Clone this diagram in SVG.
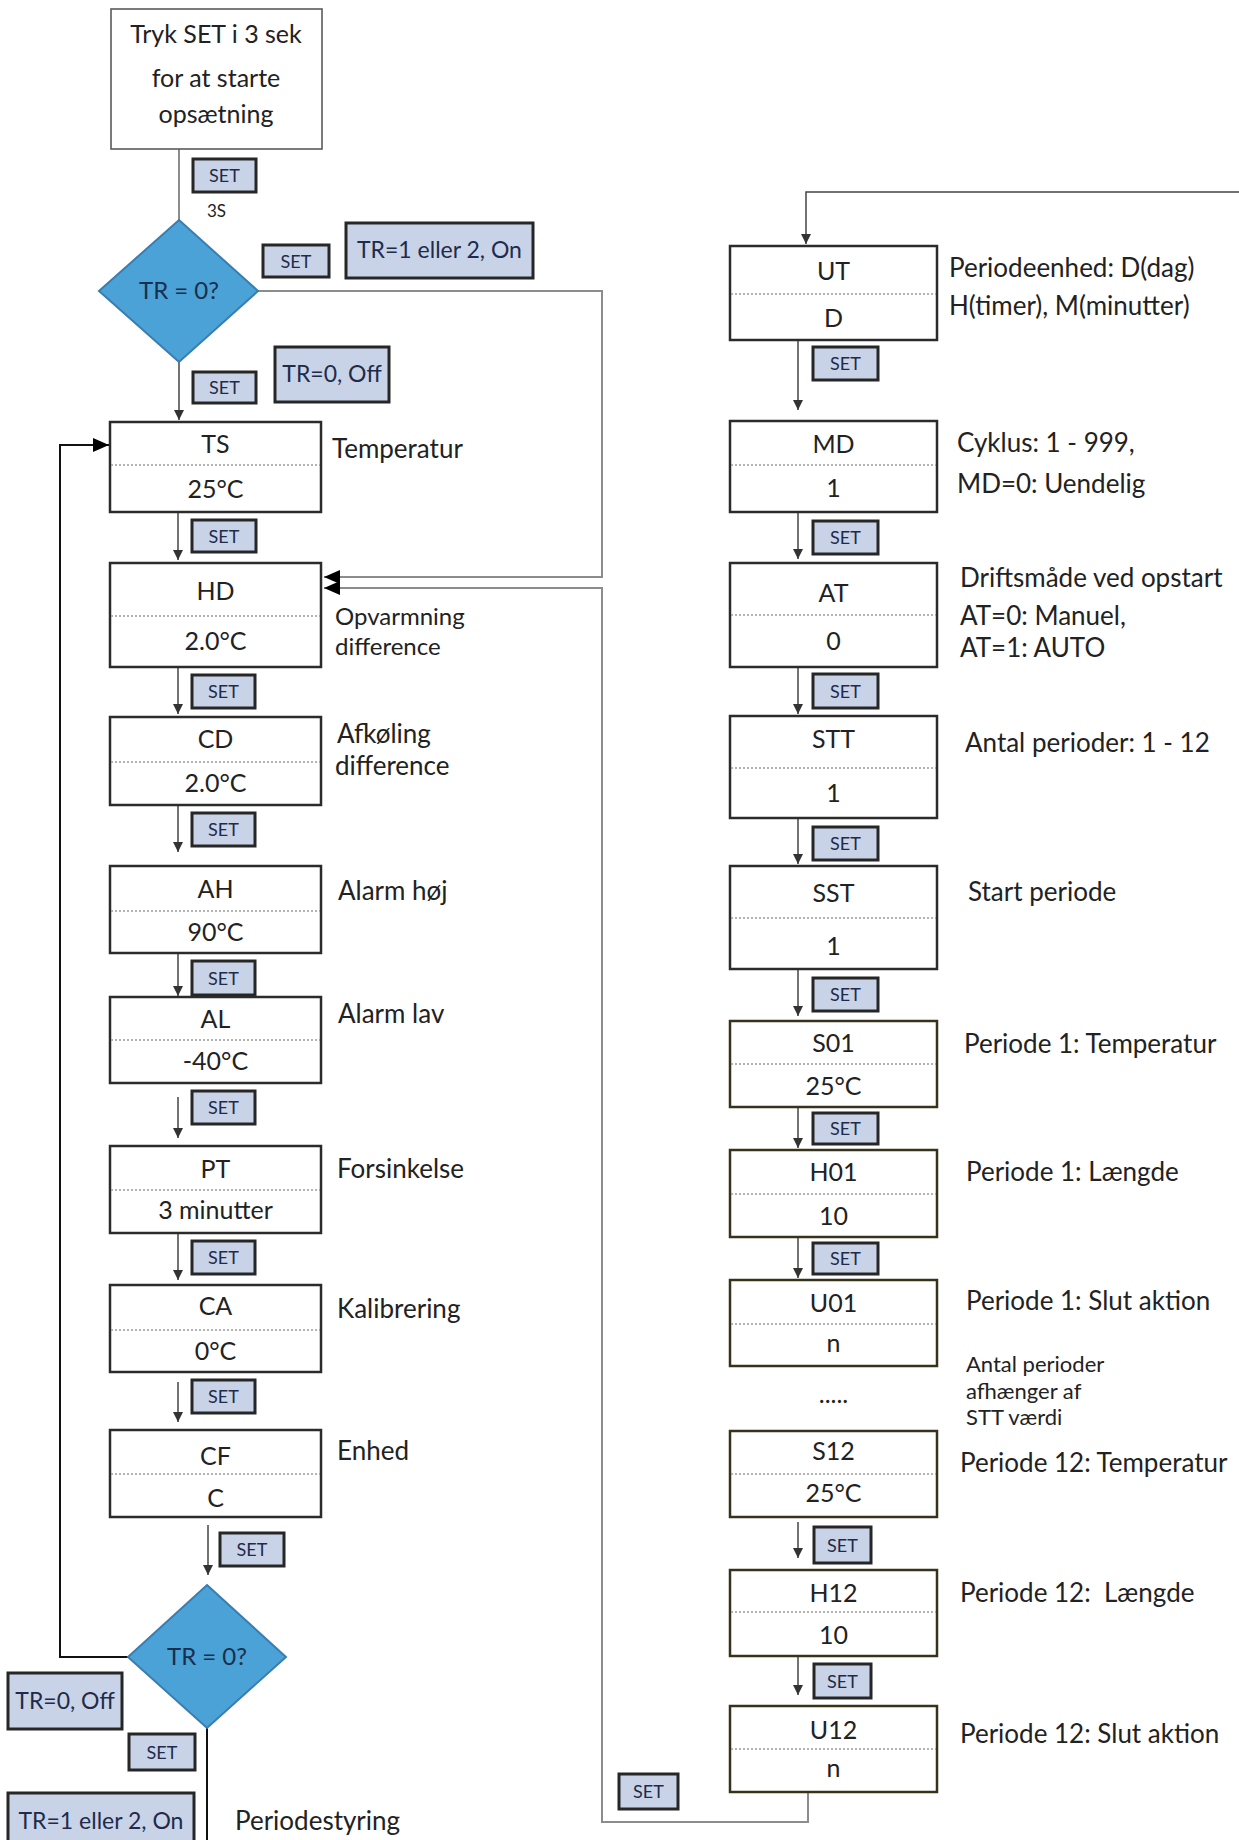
<svg xmlns="http://www.w3.org/2000/svg" width="1239" height="1840" viewBox="0 0 1239 1840">
<style>
text{font-family:Lato,"Liberation Sans",Arial,sans-serif}
.box{fill:#fff;stroke:#2b2b2b;stroke-width:2.5}
.box2{fill:#fff;stroke:#36321c;stroke-width:2.5}
.start{fill:#fff;stroke:#5a5a5a;stroke-width:1.6}
.sep{stroke:#9a9a9a;stroke-width:1.5;stroke-dasharray:2 2;fill:none}
.btn{fill:#c9d3e8;stroke:#262626;stroke-width:3}
.btnt{font-size:18px;fill:#1e2b4a;text-anchor:middle}
.tr{font-size:23px;fill:#1e2b4a;text-anchor:middle}
.nt{font-size:25px;fill:#222;text-anchor:middle}
.lbl{font-size:26px;fill:#222}
.lbl2{font-size:24px;fill:#222}
.lbl3{font-size:22px;fill:#222}
.dia{fill:#4aa2d6;stroke:#3a7db0;stroke-width:2}
.diat{font-size:24px;fill:#1a2e4d;text-anchor:middle}
.gray{stroke:#8c8c8c;stroke-width:2;fill:none}
.blk{stroke:#111;stroke-width:2;fill:none}
.thin{stroke:#444;stroke-width:1.5;fill:none}
</style>
<defs>
<marker id="big" markerUnits="userSpaceOnUse" markerWidth="16" markerHeight="14" refX="16" refY="7" orient="auto"><path d="M0,0 L16,7 L0,14 z" fill="#000"/></marker>
<marker id="sm" markerUnits="userSpaceOnUse" markerWidth="10" markerHeight="10" refX="10" refY="5" orient="auto"><path d="M0,0 L10,5 L0,10 z" fill="#333"/></marker>
</defs>
<rect width="1239" height="1840" fill="#fff"/>

<g id="connectors">
<path class="gray" d="M179,149 V220"/>
<path class="thin" d="M179,362 V420" marker-end="url(#sm)"/>
<path class="gray" d="M258,291 H602 V577 H324" marker-end="url(#big)"/>
<path class="gray" d="M808,1792 V1822 H602 V588 H324" marker-end="url(#big)"/>
<path class="thin" d="M1239,192 H806 V244" marker-end="url(#sm)"/>
<path class="blk" d="M128,1657 H60 V445 H109" marker-end="url(#big)"/>
<path class="blk" d="M207,1728 V1840"/>
<path class="thin" d="M178,512 V560" marker-end="url(#sm)"/>
<path class="thin" d="M178,667 V714" marker-end="url(#sm)"/>
<path class="thin" d="M178,805 V852" marker-end="url(#sm)"/>
<path class="thin" d="M178,953 V996" marker-end="url(#sm)"/>
<path class="thin" d="M178,1097 V1138" marker-end="url(#sm)"/>
<path class="thin" d="M178,1233 V1280" marker-end="url(#sm)"/>
<path class="thin" d="M178,1382 V1422" marker-end="url(#sm)"/>
<path class="thin" d="M208,1525 V1575" marker-end="url(#sm)"/>
<path class="thin" d="M798,340 V410" marker-end="url(#sm)"/>
<path class="thin" d="M798,512 V559" marker-end="url(#sm)"/>
<path class="thin" d="M798,667 V714" marker-end="url(#sm)"/>
<path class="thin" d="M798,818 V864" marker-end="url(#sm)"/>
<path class="thin" d="M798,969 V1016" marker-end="url(#sm)"/>
<path class="thin" d="M798,1107 V1148" marker-end="url(#sm)"/>
<path class="thin" d="M798,1237 V1278" marker-end="url(#sm)"/>
<path class="thin" d="M798,1522 V1558" marker-end="url(#sm)"/>
<path class="thin" d="M798,1657 V1695" marker-end="url(#sm)"/>
</g>

<g id="start">
<rect class="start" x="111" y="9" width="211" height="140"/>
<text class="nt" x="216" y="43">Tryk SET i 3 sek</text>
<text class="nt" x="216" y="87">for at starte</text>
<text class="nt" x="216" y="123">opsætning</text>
</g>

<g id="set-start"><rect class="btn" x="193" y="159" width="63" height="33"/><text class="btnt" x="224.5" y="182">SET</text>
<text x="207" y="217" style="font-size:17px;fill:#222">3S</text></g>

<g id="diamond1">
<polygon class="dia" points="179,220 258,291 179,362 99,291"/>
<text class="diat" x="179" y="299">TR = 0?</text>
</g>
<g id="set-on1"><rect class="btn" x="263" y="245" width="66" height="32"/><text class="btnt" x="296" y="268">SET</text></g>
<g id="tr-on1"><rect class="btn" x="346" y="223" width="187" height="55"/><text class="tr" x="439.5" y="258">TR=1 eller 2, On</text></g>
<g id="set-off1"><rect class="btn" x="193" y="372" width="63" height="31"/><text class="btnt" x="224.5" y="394">SET</text></g>
<g id="tr-off1"><rect class="btn" x="275" y="347" width="114" height="55"/><text class="tr" x="332" y="382">TR=0, Off</text></g>

<g id="TS"><rect class="box" x="110" y="422" width="211" height="90"/><line class="sep" x1="111" y1="465" x2="320" y2="465"/>
<text class="nt" x="215.5" y="453">TS</text><text class="nt" x="215.5" y="498">25°C</text>
<text class="lbl" x="332" y="458">Temperatur</text></g>
<g id="set-ts"><rect class="btn" x="192" y="520" width="64" height="32"/><text class="btnt" x="224" y="543">SET</text></g>

<g id="HD"><rect class="box" x="110" y="563" width="211" height="104"/><line class="sep" x1="111" y1="616" x2="320" y2="616"/>
<text class="nt" x="215.5" y="600">HD</text><text class="nt" x="215.5" y="650">2.0°C</text>
<text class="lbl2" x="335" y="625">Opvarmning</text><text class="lbl2" x="335" y="655">difference</text></g>
<g id="set-hd"><rect class="btn" x="192" y="675" width="63" height="33"/><text class="btnt" x="223.5" y="698">SET</text></g>

<g id="CD"><rect class="box" x="110" y="717" width="211" height="88"/><line class="sep" x1="111" y1="762" x2="320" y2="762"/>
<text class="nt" x="215.5" y="748">CD</text><text class="nt" x="215.5" y="792">2.0°C</text>
<text class="lbl" x="337" y="743">Afkøling</text><text class="lbl" x="335" y="775">difference</text></g>
<g id="set-cd"><rect class="btn" x="192" y="813" width="63" height="33"/><text class="btnt" x="223.5" y="836">SET</text></g>

<g id="AH"><rect class="box" x="110" y="866" width="211" height="87"/><line class="sep" x1="111" y1="911" x2="320" y2="911"/>
<text class="nt" x="215.5" y="898">AH</text><text class="nt" x="215.5" y="941">90°C</text>
<text class="lbl" x="338" y="900">Alarm høj</text></g>
<g id="set-ah"><rect class="btn" x="192" y="961" width="63" height="34"/><text class="btnt" x="223.5" y="985">SET</text></g>

<g id="AL"><rect class="box" x="110" y="997" width="211" height="86"/><line class="sep" x1="111" y1="1040" x2="320" y2="1040"/>
<text class="nt" x="215.5" y="1028">AL</text><text class="nt" x="215.5" y="1070">-40°C</text>
<text class="lbl" x="338" y="1023">Alarm lav</text></g>
<g id="set-al"><rect class="btn" x="192" y="1091" width="63" height="33"/><text class="btnt" x="223.5" y="1114">SET</text></g>

<g id="PT"><rect class="box" x="110" y="1146" width="211" height="87"/><line class="sep" x1="111" y1="1190" x2="320" y2="1190"/>
<text class="nt" x="215.5" y="1178">PT</text><text class="nt" x="215.5" y="1219">3 minutter</text>
<text class="lbl" x="337" y="1178">Forsinkelse</text></g>
<g id="set-pt"><rect class="btn" x="192" y="1241" width="63" height="33"/><text class="btnt" x="223.5" y="1264">SET</text></g>

<g id="CA"><rect class="box" x="110" y="1285" width="211" height="87"/><line class="sep" x1="111" y1="1330" x2="320" y2="1330"/>
<text class="nt" x="215.5" y="1315">CA</text><text class="nt" x="215.5" y="1360">0°C</text>
<text class="lbl" x="337" y="1318">Kalibrering</text></g>
<g id="set-ca"><rect class="btn" x="192" y="1380" width="63" height="33"/><text class="btnt" x="223.5" y="1403">SET</text></g>

<g id="CF"><rect class="box" x="110" y="1430" width="211" height="87"/><line class="sep" x1="111" y1="1474" x2="320" y2="1474"/>
<text class="nt" x="215.5" y="1465">CF</text><text class="nt" x="215.5" y="1507">C</text>
<text class="lbl" x="337" y="1460">Enhed</text></g>
<g id="set-cf"><rect class="btn" x="220" y="1533" width="64" height="33"/><text class="btnt" x="252" y="1556">SET</text></g>

<g id="diamond2">
<polygon class="dia" points="207,1585 286,1657 207,1728 128,1657"/>
<text class="diat" x="207" y="1665">TR = 0?</text>
</g>
<g id="tr-off2"><rect class="btn" x="8" y="1673" width="114" height="56"/><text class="tr" x="65" y="1709">TR=0, Off</text></g>
<g id="set-d2"><rect class="btn" x="129" y="1734" width="66" height="36"/><text class="btnt" x="162" y="1759">SET</text></g>
<g id="tr-on2"><rect class="btn" x="8" y="1793" width="186" height="60"/><text class="tr" x="101" y="1829">TR=1 eller 2, On</text></g>
<text class="lbl" x="235" y="1830">Periodestyring</text>

<g id="UT"><rect class="box" x="730" y="246" width="207" height="94"/><line class="sep" x1="731" y1="294" x2="936" y2="294"/>
<text class="nt" x="833.5" y="280">UT</text><text class="nt" x="833.5" y="327">D</text>
<text class="lbl" x="949" y="277">Periodeenhed: D(dag)</text><text class="lbl" x="949" y="315">H(timer), M(minutter)</text></g>
<g id="set-ut"><rect class="btn" x="813" y="347" width="65" height="33"/><text class="btnt" x="845.5" y="370">SET</text></g>

<g id="MD"><rect class="box" x="730" y="421" width="207" height="91"/><line class="sep" x1="731" y1="465" x2="936" y2="465"/>
<text class="nt" x="833.5" y="453">MD</text><text class="nt" x="833.5" y="497">1</text>
<text class="lbl" x="957" y="452">Cyklus: 1 - 999,</text><text class="lbl" x="957" y="493">MD=0: Uendelig</text></g>
<g id="set-md"><rect class="btn" x="813" y="521" width="65" height="33"/><text class="btnt" x="845.5" y="544">SET</text></g>

<g id="AT"><rect class="box" x="730" y="563" width="207" height="104"/><line class="sep" x1="731" y1="615" x2="936" y2="615"/>
<text class="nt" x="833.5" y="602">AT</text><text class="nt" x="833.5" y="650">0</text>
<text class="lbl" x="960" y="587">Driftsmåde ved opstart</text><text class="lbl" x="960" y="625">AT=0: Manuel,</text><text class="lbl" x="960" y="657">AT=1: AUTO</text></g>
<g id="set-at"><rect class="btn" x="813" y="674" width="65" height="34"/><text class="btnt" x="845.5" y="698">SET</text></g>

<g id="STT"><rect class="box" x="730" y="716" width="207" height="102"/><line class="sep" x1="731" y1="768" x2="936" y2="768"/>
<text class="nt" x="833.5" y="748">STT</text><text class="nt" x="833.5" y="802">1</text>
<text class="lbl" x="965" y="752">Antal perioder: 1 - 12</text></g>
<g id="set-stt"><rect class="btn" x="813" y="827" width="65" height="33"/><text class="btnt" x="845.5" y="850">SET</text></g>

<g id="SST"><rect class="box" x="730" y="866" width="207" height="103"/><line class="sep" x1="731" y1="918" x2="936" y2="918"/>
<text class="nt" x="833.5" y="902">SST</text><text class="nt" x="833.5" y="955">1</text>
<text class="lbl" x="968" y="901">Start periode</text></g>
<g id="set-sst"><rect class="btn" x="813" y="978" width="65" height="33"/><text class="btnt" x="845.5" y="1001">SET</text></g>

<g id="S01"><rect class="box2" x="730" y="1021" width="207" height="86"/><line class="sep" x1="731" y1="1064" x2="936" y2="1064"/>
<text class="nt" x="833.5" y="1052">S01</text><text class="nt" x="833.5" y="1095">25°C</text>
<text class="lbl" x="964" y="1053">Periode 1: Temperatur</text></g>
<g id="set-s01"><rect class="btn" x="813" y="1113" width="65" height="31"/><text class="btnt" x="845.5" y="1135">SET</text></g>

<g id="H01"><rect class="box2" x="730" y="1150" width="207" height="87"/><line class="sep" x1="731" y1="1194" x2="936" y2="1194"/>
<text class="nt" x="833.5" y="1181">H01</text><text class="nt" x="833.5" y="1225">10</text>
<text class="lbl" x="966" y="1181">Periode 1: Længde</text></g>
<g id="set-h01"><rect class="btn" x="813" y="1243" width="65" height="31"/><text class="btnt" x="845.5" y="1265">SET</text></g>

<g id="U01"><rect class="box2" x="730" y="1280" width="207" height="86"/><line class="sep" x1="731" y1="1324" x2="936" y2="1324"/>
<text class="nt" x="833.5" y="1312">U01</text><text class="nt" x="833.5" y="1352">n</text>
<text class="lbl" x="966" y="1310">Periode 1: Slut aktion</text></g>

<g id="ellipsis"><text class="nt" x="833.5" y="1403">.....</text>
<text class="lbl3" x="966" y="1372">Antal perioder</text><text class="lbl3" x="966" y="1398.5">afhænger af</text><text class="lbl3" x="966" y="1425">STT værdi</text></g>

<g id="S12"><rect class="box2" x="730" y="1431" width="207" height="86"/><line class="sep" x1="731" y1="1474" x2="936" y2="1474"/>
<text class="nt" x="833.5" y="1460">S12</text><text class="nt" x="833.5" y="1502">25°C</text>
<text class="lbl" x="960" y="1472">Periode 12: Temperatur</text></g>
<g id="set-s12"><rect class="btn" x="814" y="1527" width="57" height="36"/><text class="btnt" x="842.5" y="1552">SET</text></g>

<g id="H12"><rect class="box2" x="730" y="1570" width="207" height="86"/><line class="sep" x1="731" y1="1612" x2="936" y2="1612"/>
<text class="nt" x="833.5" y="1602">H12</text><text class="nt" x="833.5" y="1644">10</text>
<text class="lbl" x="960" y="1602" style="white-space:pre">Periode 12:  Længde</text></g>
<g id="set-h12"><rect class="btn" x="814" y="1664" width="57" height="34"/><text class="btnt" x="842.5" y="1688">SET</text></g>

<g id="U12"><rect class="box2" x="730" y="1706" width="207" height="86"/><line class="sep" x1="731" y1="1749" x2="936" y2="1749"/>
<text class="nt" x="833.5" y="1739">U12</text><text class="nt" x="833.5" y="1777">n</text>
<text class="lbl" x="960" y="1743">Periode 12: Slut aktion</text></g>
<g id="set-u12"><rect class="btn" x="619" y="1774" width="59" height="35"/><text class="btnt" x="648.5" y="1798">SET</text></g>
</svg>
